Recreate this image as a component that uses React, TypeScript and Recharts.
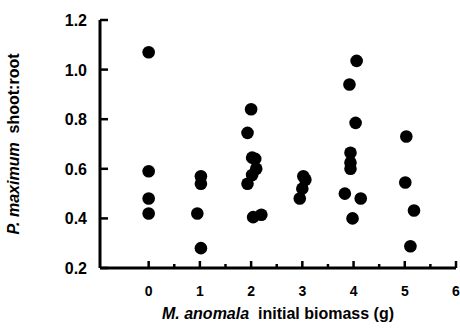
import { ScatterChart, Scatter, XAxis, YAxis, Label } from "recharts";

// M. anomala initial biomass (g) vs P. maximum shoot:root
const biomass = [
  0, 0, 0, 0,
  1.02, 1.02, 0.95, 1.02,
  2.0, 1.93, 2.02, 2.08, 2.1, 2.02, 1.93, 2.04, 2.2,
  3.02, 3.06, 3.0, 2.95,
  4.06, 3.92, 4.04, 3.94, 3.94, 3.94, 3.83, 4.14, 3.98,
  5.03, 5.01, 5.18, 5.11,
];
const shootRoot = [
  1.07, 0.59, 0.48, 0.42,
  0.57, 0.54, 0.42, 0.28,
  0.84, 0.745, 0.645, 0.64, 0.6, 0.575, 0.54, 0.405, 0.415,
  0.57, 0.556, 0.52, 0.48,
  1.035, 0.94, 0.785, 0.665, 0.625, 0.6, 0.5, 0.48, 0.4,
  0.73, 0.545, 0.432, 0.288,
];
const xTicks = [0, 0.5, 1, 1.5, 2, 2.5, 3, 3.5, 4, 4.5, 5, 5.5, 6];
const yTicks = [0.2, 0.4, 0.6, 0.8, 1.0, 1.2];

const points = biomass.map((x, i) => ({ x, y: shootRoot[i] }));

const FONT = "'Liberation Sans', Arial, Helvetica, sans-serif";

function XTick({ x, y, payload }: any) {
  const major = Number.isInteger(payload.value);
  return (
    <g>
      <line x1={x} x2={x} y1={y} y2={y - (major ? 7 : 4)} stroke="#000" strokeWidth={2.5} />
      {major && (
        <text x={x} y={y + 28} textAnchor="middle" fontFamily={FONT} fontWeight="bold" fontSize={14} fill="#000">
          {payload.value}
        </text>
      )}
    </g>
  );
}

function YTick({ x, y, payload }: any) {
  return (
    <g>
      <line x1={x} x2={x + 8} y1={y} y2={y} stroke="#000" strokeWidth={2.5} />
      <text x={x - 13} y={y + 6} textAnchor="end" fontFamily={FONT} fontWeight="bold" fontSize={16} fill="#000">
        {Number(payload.value).toFixed(1)}
      </text>
    </g>
  );
}

function XTitle({ viewBox }: any) {
  const { x, y, width } = viewBox;
  return (
    <text x={x + width / 2} y={y + 51} textAnchor="middle" fontFamily={FONT} fontWeight="bold" fontSize={16} fill="#000">
      <tspan fontStyle="italic">M. anomala</tspan>
      <tspan>{"\u00a0 initial biomass (g)"}</tspan>
    </text>
  );
}

function YTitle({ viewBox }: any) {
  const { y, height } = viewBox;
  const cx = 19;
  const cy = y + height / 2;
  return (
    <text
      x={cx}
      y={cy}
      transform={`rotate(-90 ${cx} ${cy})`}
      textAnchor="middle"
      fontFamily={FONT}
      fontWeight="bold"
      fontSize={16}
      fill="#000"
    >
      <tspan fontStyle="italic">P. maximum</tspan>
      <tspan>{"\u00a0 shoot:root"}</tspan>
    </text>
  );
}

const Dot = ({ cx, cy }: any) => <circle cx={cx} cy={cy} r={6.3} fill="#000" />;

export default function App() {
  return (
    <div style={{ position: "fixed", left: 0, top: 0, background: "#fff" }}>
      <ScatterChart width={460} height={328} margin={{ top: 20, right: 4, bottom: 0, left: 0 }}>
        <XAxis
          type="number"
          dataKey="x"
          domain={[-0.95, 6]}
          ticks={xTicks}
          interval={0}
          allowDataOverflow
          height={60}
          tickLine={false}
          tickSize={0}
          tickMargin={0}
          tick={<XTick />}
          axisLine={{ stroke: "#000", strokeWidth: 3 }}
        >
          <Label content={<XTitle />} />
        </XAxis>
        <YAxis
          type="number"
          dataKey="y"
          domain={[0.2, 1.2]}
          ticks={yTicks}
          interval={0}
          allowDataOverflow
          width={100}
          tickLine={false}
          tickSize={0}
          tickMargin={0}
          tick={<YTick />}
          axisLine={{ stroke: "#000", strokeWidth: 3 }}
        >
          <Label content={<YTitle />} />
        </YAxis>
        <Scatter data={points} shape={<Dot />} isAnimationActive={false} />
      </ScatterChart>
    </div>
  );
}
